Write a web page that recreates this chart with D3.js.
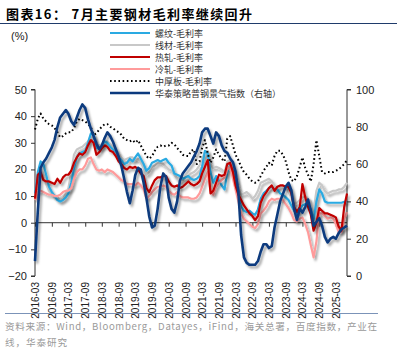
<!DOCTYPE html>
<html><head><meta charset="utf-8">
<script src="https://cdn.jsdelivr.net/npm/d3@7"></script>
<style>
body{margin:0;background:#fff;}
svg{display:block;font-family:"Liberation Sans",Arial,sans-serif;}
</style></head>
<body><svg id="c" width="397" height="361"></svg>
<script>
// Monthly, 2016-03 .. 2025-07
const startMonth = "2016-03";
const tickLabels = ["2016-03","2016-09","2017-03","2017-09","2018-03","2018-09","2019-03","2019-09","2020-03","2020-09","2021-03","2021-09","2022-03","2022-09","2023-03","2023-09","2024-03","2024-09","2025-03"];
const leftTicks = [-20,-10,0,10,20,30,40,50];
const rightTicks = [0,20,40,60,80,100];

const rebar = [11,19,23,22,18,13.5,11.5,10,8.5,8,8.5,9.5,11,15,20.5,24.5,26,26.5,27,30,33.5,33,28,28,28.5,30.5,30,28.5,27.5,26.5,24.5,23.5,22,22.5,24,23,24.5,26,24,22,19.5,20.5,22.5,23,23.5,23,23.5,24,22.5,21.5,18.5,18,17.5,16.5,17,17.5,16.5,16,16.5,17.5,21,27,26,19,15,17.5,15.5,14,12.5,19,21.5,19.5,15,10,6,4.5,4,4.5,3.5,3,5,9,11,12,13,13.5,12.5,12.5,11,10.5,9.5,8.5,6.5,4.5,3.5,5,6.5,7,6.5,5,1,8,12.5,11,8,7.5,7.5,7.5,7.5,7.5,7.5,7.8,8];
const wire = [10,18,20,17,14.5,12,11,10,9.5,8.5,9,11,13,19,25.5,27.5,28,28.5,29.5,30.5,32.5,32,29,29,29.5,30.5,30.5,29.5,28.5,27.5,26,24.5,23.5,24,24.5,24.5,23.5,24,22.5,20.5,18,19,21,21.5,22.5,22.5,22,21,20,19.5,18,16.5,15.5,16,17,17.5,18.5,19,20,21.5,24,26.5,27,22,20.5,21,20.5,20,19,23,23.5,21,18,13.5,10.5,11,11.5,10.5,9,10,12,15,15.5,16,16.5,15.5,14,13,13.5,14,13.5,11.5,9.5,7,7.5,8.5,9.5,10,9,8,4.5,12,15,14,12,11,11.5,12,12,12.5,12.5,13.5,15];
const hotRolled = [9,18,19,16,15.5,15.5,15,14.5,16.5,15,17,18,18,19.5,22.5,24.5,26,25.5,26.5,29,31,30,25.5,26.5,28,29,28.5,27,26.5,25,23,22,20.5,20,21,20.5,21,20,18.5,17.5,13,11.5,14,16,17,17,17.5,17.5,15.5,14,13.5,14,13,13.5,14.5,15.5,14.5,14,14.5,15.5,18.5,21,23.5,11,12,15,18,17.5,18,22,22.5,19,14,10.5,8.5,6.5,5,3.5,2.5,1,2.5,7.5,10,11.5,13,14,12,13.5,14,14,13.5,13.5,11,6,4,6,14.5,9.5,6,3,-3,0,5.5,4.5,3.5,3.5,3,2.5,2,-1.5,-3,6,11];
const coldRolled = [8.5,12,12,11.5,11,10.5,10.5,10,10,10.5,11.5,12,12,13,16.5,19,20,20,21.5,24,24.5,22,20,19.5,20,19,20,19.5,19,18,17,16,15.5,14.5,14.5,14.5,14,15,14,12.5,9,10,11.5,12.5,13.5,13.5,14,13.5,12,11,10.5,11.5,10,9.5,9.5,9.5,9,9,9.5,11,13.5,16.5,19,12,10.5,13.5,15,16,17,20,21,16.5,12.5,8,3.5,1.5,0.5,-0.5,-1.5,-2,-0.5,3.5,4.5,6,8,9,8.5,9,9,8.5,7,5.5,3.5,1,0.5,1.5,2,-0.5,-3.5,-8.5,-13,-7,3.5,3.5,2.5,1.5,2,1.5,-0.5,-3.5,-3.5,1.5,4];
const plate = [35,39,41,39,38,37,36.5,35.5,34,32,32.5,33.5,34,34,35.5,38,39,38.5,38,37,36,33,33.5,35,36,37,37,36,35.5,34.5,34,33,31.5,31,30.5,31,30,31,29,27,25,24,25,27,28.5,29,28.5,29,29,30,29.5,28,27,25.5,25,25,27,27.5,22,23,28,31,26,22.5,24.5,27.5,25.5,24,23,31.5,32.5,29,25.5,23.5,21,19,18,16.5,15.5,15,15.5,17.5,19.5,21,22.5,21.5,25,27,27,25.5,23,19,16,15.5,17.5,21,24.5,20.5,18,15.5,22,31,25,19,18.5,19,19,19,19.5,20,21,22,23.5];
const index = [8,35,58,61,63,66,69,73,80,85,87,89,87,83,81,85,89,92,90,84,79,75,71,68,70,74,77,75,72,68,64,59,52,45,39,46,54,58,57,50,42,32,26,27,36,48,55,53,42,36,34,40,51,55,57,59,61,64,67,71,77,79,79,75,71,77,75,70,67,66,63,61,56,45,22,10,7,6,6,6,8,13,17,17,15,16,26,33,40,44,48,50,46,36,30,36,34,37,41,35,27,29,31,27,21,18,20,21,20,23,25,26,27];

const names = ["螺纹-毛利率","线材-毛利率","热轧-毛利率","冷轧-毛利率","中厚板-毛利率","华泰策略普钢景气指数（右轴）"];
const colors = ["#2aaae2","#c8c8c8","#c00000","#ff9b9b","#000000","#0b3a7e"];

const svg = d3.select("#c");
const parse = d3.timeParse("%Y-%m");
const t0 = parse(startMonth);
const dates = rebar.map((_, i) => d3.timeMonth.offset(t0, i));

const x = d3.scaleTime().domain([t0, dates[dates.length-1]]).range([35, 347]);
const yL = d3.scaleLinear().domain([-20, 50]).range([276, 89.5]);
const yR = d3.scaleLinear().domain([0, 100]).range([276, 89.5]);

// filter for shadow
const defs = svg.append("defs");
const f = defs.append("filter").attr("id","sh").attr("x","-10%").attr("y","-10%").attr("width","130%").attr("height","130%");
f.append("feDropShadow").attr("dx",2).attr("dy",2.5).attr("stdDeviation",1.3).attr("flood-color","#000").attr("flood-opacity",0.35);

// title
svg.append("text").attr("x",6).attr("y",19).attr("font-family","'Noto Sans CJK SC',sans-serif")
  .attr("font-size",13).attr("font-weight","bold").attr("fill","#000")
  .attr("textLength",246).attr("lengthAdjust","spacing")
  .text("图表16： 7月主要钢材毛利率继续回升");
svg.append("line").attr("x1",0).attr("x2",397).attr("y1",23.5).attr("y2",23.5).attr("stroke","#1f3b6b").attr("stroke-width",1);
svg.append("text").attr("x",11).attr("y",40).attr("font-size",11).attr("fill","#222").text("(%)");

// axes
const axL = svg.append("g").attr("transform","translate(35,0)")
  .call(d3.axisLeft(yL).tickValues(leftTicks).tickSize(4).tickPadding(4));
const axR = svg.append("g").attr("transform","translate(347,0)")
  .call(d3.axisRight(yR).tickValues(rightTicks).tickSize(4).tickPadding(5));
[axL, axR].forEach(a => {
  a.select(".domain").attr("stroke","#333");
  a.selectAll(".tick line").attr("stroke","#333");
  a.selectAll("text").attr("font-size",11).attr("fill","#222").attr("font-family","'Liberation Sans',Arial,sans-serif");
});
axL.selectAll(".domain").attr("d","M-4,89.5H0V276H-4");
axR.selectAll(".domain").attr("d","M4,89.5H0V276H4");

const tickDates = tickLabels.map(parse);
const axX = svg.append("g").attr("transform",`translate(0,${yL(0)})`)
  .call(d3.axisBottom(x).tickValues(tickDates).tickSize(4).tickFormat(""));
axX.select(".domain").attr("stroke","#333").attr("d",`M35,0H347`);
axX.selectAll(".tick line").attr("stroke","#333");

svg.append("g").selectAll("text").data(tickDates).join("text")
  .attr("transform", d => `translate(${x(d)+4},282) rotate(-90)`)
  .attr("text-anchor","end").attr("font-size",10).attr("fill","#222")
  .text((d,i) => tickLabels[i]);

// lines
const lineL = d3.line().x((d,i) => x(dates[i])).y(d => yL(d));
const lineR = d3.line().x((d,i) => x(dates[i])).y(d => yR(d));
const g = svg.append("g");
const order = [
  {data: wire, c: 1, w: 2.2, f: lineL},
  {data: rebar, c: 0, w: 2.2, f: lineL},
  {data: coldRolled, c: 3, w: 2.2, f: lineL},
  {data: hotRolled, c: 2, w: 2.2, f: lineL},
  {data: plate, c: 4, w: 2, f: lineL, dash: "1.6,2.6"},
  {data: index, c: 5, w: 2.6, f: lineR}
];
order.forEach(s => {
  g.append("path").attr("d", s.f(s.data)).attr("fill","none")
    .attr("stroke", colors[s.c]).attr("stroke-width", s.w)
    .attr("stroke-linejoin","round")
    .attr("stroke-dasharray", s.dash || null)
    .attr("filter", s.dash ? null : "url(#sh)");
});

// legend
const lg = svg.append("g");
names.forEach((n, i) => {
  const yy = 33 + i*12;
  lg.append("line").attr("x1",110).attr("x2",150).attr("y1",yy).attr("y2",yy)
    .attr("stroke",colors[i]).attr("stroke-width", i===5 ? 2.6 : 2.2)
    .attr("stroke-dasharray", i===4 ? "1.6,2.6" : null);
  lg.append("text").attr("x",155).attr("y",yy+3.5).attr("font-size",9)
    .attr("font-family","'Noto Sans CJK SC',sans-serif").attr("fill","#333").text(n);
});

// source
svg.append("line").attr("x1",5).attr("x2",378).attr("y1",313.5).attr("y2",313.5).attr("stroke","#7b93b8").attr("stroke-width",1);
svg.append("text").attr("x",5).attr("y",330).attr("font-size",9.6).attr("fill","#9a9a9a")
  .attr("font-family","'Noto Sans CJK SC',sans-serif")
  .attr("textLength",372).attr("lengthAdjust","spacing")
  .text("资料来源：Wind，Bloomberg，Datayes，iFind，海关总署，百度指数，产业在");
svg.append("text").attr("x",5).attr("y",346).attr("font-size",9.6).attr("fill","#9a9a9a")
  .attr("font-family","'Noto Sans CJK SC',sans-serif")
  .attr("textLength",62).attr("lengthAdjust","spacing").text("线，华泰研究");
</script></body></html>
